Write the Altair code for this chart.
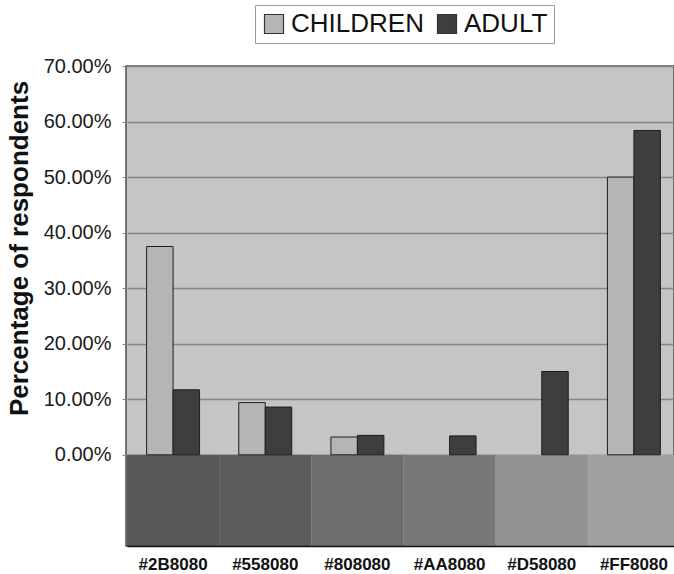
import altair as alt
import pandas as pd

# Colour names tested, share of respondents (%) per group
categories = ["#2B8080", "#558080", "#808080", "#AA8080", "#D58080", "#FF8080"]
children = [37.5, 9.4, 3.2, 0.0, 0.0, 50.0]
adult = [11.7, 8.6, 3.5, 3.4, 15.0, 58.4]
series = ["CHILDREN", "ADULT"]

# Grey swatch shown under each colour name
swatch_grays = ["#585858", "#5c5c5c", "#6d6d6d", "#787878", "#939393", "#a0a0a0"]
y_ticks = [0, 10, 20, 30, 40, 50, 60, 70]

Y_MIN = -16.42
Y_MAX = 70

bars = pd.DataFrame({
    "category": categories * 2,
    "series": [series[0]] * len(categories) + [series[1]] * len(categories),
    "value": children + adult,
})
swatches = pd.DataFrame({
    "category": categories,
    "shade": swatch_grays,
    "lo": [Y_MIN] * len(categories),
    "hi": [0] * len(categories),
})

FONT = "Liberation Sans"

x_scale = alt.Scale(domain=categories, range=[1, 554], paddingInner=0, paddingOuter=0)
y_scale = alt.Scale(domain=[Y_MIN, Y_MAX], nice=False, zero=False)

x_axis = alt.Axis(
    title=None, orient="bottom", ticks=False, tickSize=0, labelAngle=0,
    domainColor="#111111", domainWidth=1.5,
    labelFont=FONT, labelFontSize=17, labelFontWeight="bold", labelColor="#111111",
    labelBaseline="middle", labelPadding=18,
)
y_axis = alt.Axis(
    values=y_ticks, labelExpr="format(datum.value, '.2f') + '%'",
    grid=True, gridColor="#858585", gridWidth=1.5,
    domain=False, tickColor="#888888", tickSize=4,
    labelFont=FONT, labelFontSize=20, labelColor="#1a1a1a", labelPadding=11,
    title="Percentage of respondents", titleFont=FONT, titleFontSize=26,
    titleFontWeight="bold", titleColor="#111111",
    titleX=-107, titleY=182, titleAlign="center", titleBaseline="middle",
)

swatch_layer = alt.Chart(swatches).mark_rect(strokeWidth=0).encode(
    x=alt.X("category:N", scale=x_scale, sort=categories, axis=x_axis),
    y=alt.Y("lo:Q", scale=y_scale, axis=y_axis),
    y2="hi:Q",
    fill=alt.Fill("shade:N", scale=None),
)

bar_layer = alt.Chart(bars).transform_filter("datum.value > 0").mark_bar(
    stroke="#1e1e1e", strokeWidth=1
).encode(
    x=alt.X("category:N", scale=x_scale, sort=categories, axis=x_axis),
    xOffset=alt.XOffset("series:N", sort=series,
                        scale=alt.Scale(domain=series, paddingInner=0, paddingOuter=0.74)),
    y=alt.Y("value:Q", scale=y_scale, axis=y_axis),
    y2=alt.datum(0),
    color=alt.Color(
        "series:N", sort=series,
        scale=alt.Scale(domain=series, range=["#b5b5b5", "#3e3e3e"]),
        legend=alt.Legend(
            title=None, orient="none", legendX=129, legendY=-61,
            direction="horizontal", columns=2,
            labelFont=FONT, labelFontSize=26, labelColor="#111111", labelOffset=4,
            symbolType="square", symbolSize=361, symbolStrokeColor="#333333",
            symbolStrokeWidth=1.2, columnPadding=10, padding=6,
            strokeColor="#9a9a9a", fillColor="white",
        ),
    ),
)

chart = alt.layer(swatch_layer, bar_layer).properties(
    width=548, height=480,
    autosize=alt.AutoSizeParams(type="none"),
    padding={"left": 126, "top": 66, "right": 0, "bottom": 28},
    background="white",
).configure_view(
    fill="#c5c5c5", stroke="#4d4d4d", strokeWidth=1.5,
)

chart.save("out.html", embed_options={"renderer": "svg", "actions": False})
